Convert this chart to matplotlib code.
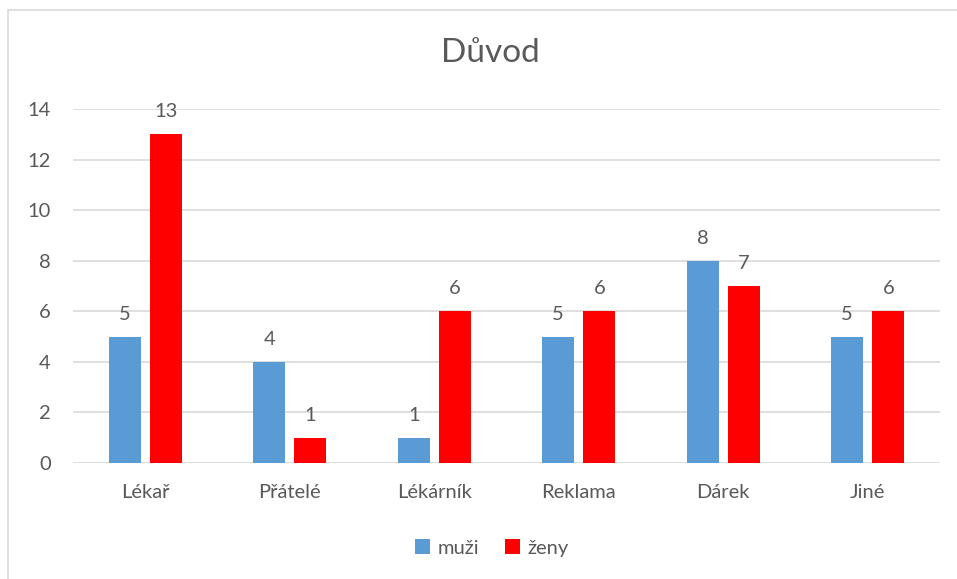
import matplotlib
matplotlib.use("Agg")
import matplotlib.pyplot as plt
from matplotlib.patches import Rectangle
import numpy as np

categories = ["Lékař", "Přátelé", "Lékárník", "Reklama", "Dárek", "Jiné"]
muzi = [5, 4, 1, 5, 8, 5]
zeny = [13, 1, 6, 6, 7, 6]
series_names = ["muži", "ženy"]
colors = ["#5B9BD5", "#FF0000"]
text_color = "#595959"

plt.rcParams["font.family"] = ["Lato", "DejaVu Sans"]

W, H = 957, 579
fig = plt.figure(figsize=(W / 100, H / 100), dpi=100)

# outer chart border
fig.patches.append(Rectangle((8 / W, -0.05), 1.1, 1 - 10 / H + 0.05,
                             transform=fig.transFigure, fill=False,
                             edgecolor="#D9D9D9", linewidth=1.2))

left, right, top, bottom = 73, 940, 109, 463
ax = fig.add_axes([left / W, 1 - bottom / H, (right - left) / W, (bottom - top) / H])

x = np.arange(len(categories))
bw = 0.22
off = 0.142
b1 = ax.bar(x - off, muzi, bw, color=colors[0], label=series_names[0], zorder=3)
b2 = ax.bar(x + off, zeny, bw, color=colors[1], label=series_names[1], zorder=3)

fs = 14.5
for bars, vals in ((b1, muzi), (b2, zeny)):
    for r, v in zip(bars, vals):
        ax.annotate(str(v), (r.get_x() + r.get_width() / 2, v), xytext=(0, 10),
                    textcoords="offset points", ha="center", va="bottom",
                    fontsize=fs, color=text_color)

ax.set_xlim(-0.5, len(categories) - 0.5)
ax.set_ylim(0, 14)
ax.set_yticks(range(0, 15, 2))
ax.set_xticks(x)
ax.set_xticklabels(categories)
ax.tick_params(axis="both", length=0, labelsize=fs, labelcolor=text_color)
ax.tick_params(axis="y", pad=16)
ax.tick_params(axis="x", pad=15)
ax.grid(axis="y", color="#D9D9D9", linewidth=1.2, zorder=0)
for s in ax.spines.values():
    s.set_visible(False)
ax.set_facecolor("none")

fig.text(490 / W, 1 - 53 / H, "Důvod", ha="center", va="center",
         fontsize=24, color=text_color)

fig.legend(handles=[b1, b2], labels=series_names, loc="center",
           bbox_to_anchor=(492 / W, 1 - 548 / H), ncol=2, frameon=False,
           fontsize=fs, labelcolor=text_color, handlelength=0.75,
           handleheight=0.75, handletextpad=0.35, columnspacing=1.3)

fig.savefig("out.png", dpi=100)
